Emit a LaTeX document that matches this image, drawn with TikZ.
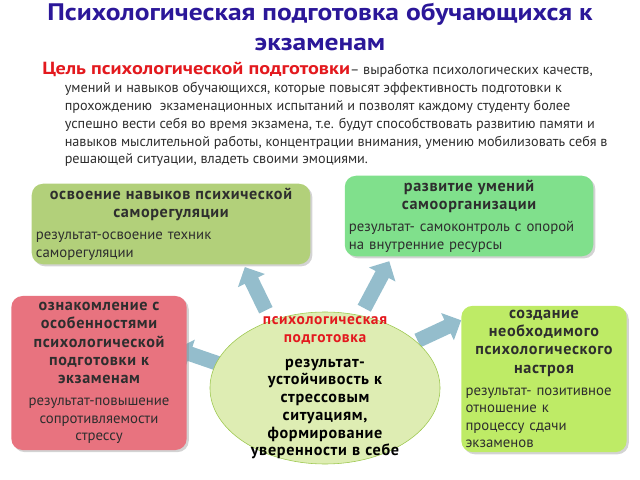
\documentclass[tikz,border=0pt]{standalone}
\usepackage{fontspec}
\setmainfont{PT Sans}
\newfontfamily\widefont{PT Sans}[FakeStretch=1.15]
\newfontfamily\cardfont{PT Sans}[LetterSpace=4]
\usetikzlibrary{shapes.geometric,shapes.arrows,shadows,positioning}
\setlength{\parindent}{0pt}

\definecolor{titleblue}{HTML}{2B1799}
\definecolor{goalred}{HTML}{E3191E}
\definecolor{olivebox}{HTML}{B2D07A}
\definecolor{greenbox}{HTML}{80E08C}
\definecolor{pinkbox}{HTML}{E8737F}
\definecolor{limebox}{HTML}{BEEB66}
\definecolor{hubfill}{HTML}{DEEDB3}
\definecolor{hubline}{HTML}{9CC74E}
\definecolor{arrowblue}{HTML}{94BDCC}
\definecolor{bodygray}{HTML}{2E2E2E}

\newcommand{\cardhead}[1]{{\centering\cardfont\bfseries\fontsize{11.5}{13}\selectfont #1\par}\vspace{3pt}}

\tikzset{
  card/.style={rounded corners=8pt, inner sep=3pt, text=bodygray,
    font=\fontsize{10.5}{12.5}\selectfont,
    execute at begin node=\raggedright,
    drop shadow={opacity=0.35, shadow xshift=1.5pt, shadow yshift=-1.5pt}},
  blockarrow/.style={single arrow, fill=arrowblue, draw=none, inner sep=0.12cm,
    minimum width=0.75cm, single arrow head extend=0.13cm, minimum height=1.2cm}
}

\begin{document}
\begin{tikzpicture}[x=0.025cm, y=-0.025cm]
  \useasboundingbox (0,0) rectangle (640,480);

  % Title and goal
  \node[text=titleblue, font=\widefont\bfseries\fontsize{17}{21}\selectfont, align=center] (title) at (320,27)
    {Психологическая подготовка обучающихся к\\экзаменам};
  \node[anchor=north west, align=left, inner sep=0pt, text=bodygray,
        font=\fontsize{10.1}{12.7}\selectfont] (goal) at (42,62)
    {{\color{goalred}\widefont\bfseries\fontsize{12.5}{12.7}\selectfont Цель психологической подготовки}– выработка психологических качеств,\\
     \hspace*{16pt}умений и навыков обучающихся, которые повысят эффективность подготовки к\\
     \hspace*{16pt}прохождению\ \ экзаменационных испытаний и позволят каждому студенту более\\
     \hspace*{16pt}успешно вести себя во время экзамена, т.е. будут способствовать развитию памяти и\\
     \hspace*{16pt}навыков мыслительной работы, концентрации внимания, умению мобилизовать себя в\\
     \hspace*{16pt}решающей ситуации, владеть своими эмоциями.};

  % Arrows from the centre
  \node[blockarrow, rotate=116] (toskills) at (257,292) {};
  \node[blockarrow, rotate=62, minimum height=1.33cm] (toself) at (375,288) {};
  \node[blockarrow, rotate=161] (tointro) at (202,358) {};
  \node[blockarrow, rotate=25] (tomood) at (436,332) {};

  % Boxes
  \node[card, fill=olivebox, text width=6.75cm, minimum height=1.95cm] (skills) at (171,224)
    {\cardhead{освоение навыков психической\\саморегуляции}результат-освоение техник\\саморегуляции};
  \node[card, fill=greenbox, text width=6.0cm, minimum height=1.68cm] (self) at (469,216)
    {\cardhead{развитие умений\\самоорганизации}результат- самоконтроль с опорой\\на внутренние ресурсы};
  \node[card, fill=pinkbox, text width=4.17cm, minimum height=3.85cm, execute at begin node=\centering] (intro) at (99,373)
    {\cardhead{ознакомление с\\особенностями\\психологической\\подготовки к\\экзаменам}результат-повышение\\сопротивляемости\\стрессу};
  \node[card, fill=limebox, text width=3.92cm, minimum height=3.575cm] (mood) at (544,379)
    {\cardhead{создание\\необходимого\\психологического\\настроя}результат- позитивное\\отношение к\\процессу сдачи\\экзаменов};

  % Centre
  \node[ellipse, draw=hubline, fill=hubfill, minimum width=5.75cm, minimum height=3.8cm] (hub) at (325,388) {};
  \node[align=center, text width=4.4cm, font=\cardfont\bfseries\fontsize{11}{12.5}\selectfont] (hubtext) at (hub.center)
    {{\color{goalred}психологическая\\подготовка}\\[5pt]
     {\fontsize{11.5}{12.6}\selectfont результат-\\устойчивость к\\стрессовым\\ситуациям,\\формирование\\уверенности в себе}};
\end{tikzpicture}
\end{document}
